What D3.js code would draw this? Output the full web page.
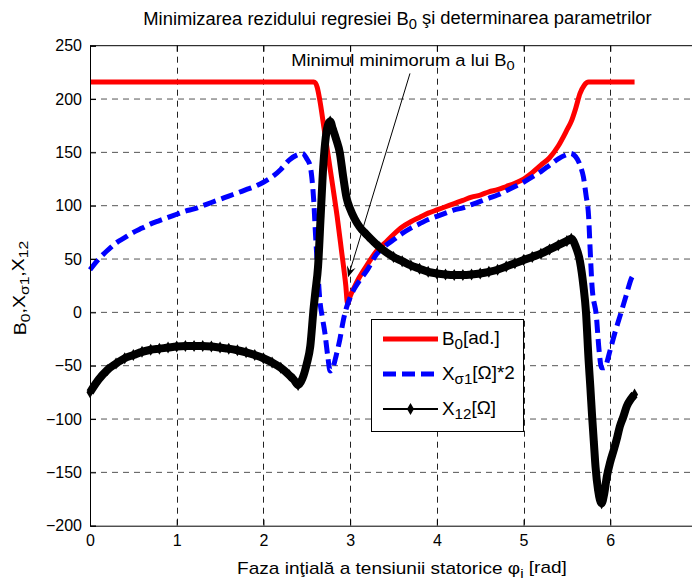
<!DOCTYPE html>
<html>
<head>
<meta charset="utf-8">
<script src="https://cdn.jsdelivr.net/npm/d3@7"></script>
<style>
  body { margin: 0; background: #fff; }
  svg { display: block; font-family: "Liberation Sans", Arial, sans-serif; }
</style>
</head>
<body>
<svg id="chart" width="692" height="580"></svg>
<script>
// ── Data ───────────────────────────────────────────────────────────────────

const b0X = [0, 2.58, 2.6, 2.62, 2.65, 2.7, 2.75, 2.8, 2.85, 2.9, 2.95, 2.97, 3.0, 3.05, 3.1, 3.2, 3.3, 3.4, 3.5, 3.6, 3.7, 3.8, 3.9, 4.0, 4.1, 4.2, 4.3, 4.4, 4.5, 4.6, 4.7, 4.8, 4.9, 5.0, 5.1, 5.2, 5.3, 5.4, 5.5, 5.55, 5.6, 5.65, 5.7, 5.75, 6.28];
const b0Y = [216, 216, 215, 211, 199, 172, 145, 118, 90, 58, 25, 8, 15, 24, 32, 45, 57, 65, 73, 80, 85, 89, 93, 96, 99, 102, 105, 108, 110, 113, 115, 118, 121, 125, 131, 138, 145, 156, 171, 179, 191, 205, 213, 216, 216];

const xsX = [0, 0.1, 0.2, 0.3, 0.4, 0.5, 0.6, 0.7, 0.8, 0.9, 1.0, 1.1, 1.2, 1.3, 1.4, 1.5, 1.6, 1.7, 1.8, 1.9, 2.0, 2.1, 2.2, 2.3, 2.4, 2.45, 2.5, 2.54, 2.56, 2.58, 2.6, 2.63, 2.65, 2.68, 2.71, 2.74, 2.77, 2.8, 2.84, 2.88, 2.92, 2.96, 3.0, 3.04, 3.11, 3.2, 3.3, 3.4, 3.5, 3.6, 3.7, 3.8, 3.9, 4.0, 4.1, 4.2, 4.3, 4.4, 4.5, 4.6, 4.7, 4.8, 4.9, 5.0, 5.1, 5.2, 5.3, 5.4, 5.5, 5.54, 5.6, 5.66, 5.69, 5.72, 5.75, 5.77, 5.79, 5.84, 5.87, 5.9, 5.93, 6.0, 6.05, 6.11, 6.18, 6.25, 6.28];
const xsY = [40, 50, 58, 65, 70, 75, 79, 83, 86, 89, 92, 95, 97, 100, 103, 106, 109, 112, 115, 118, 122, 127, 134, 143, 148, 149, 144, 137, 125, 105, 74, 35, 12, -5, -20, -40, -55, -52, -40, -26, -8, 5, 14, 21, 30, 40, 54, 62, 68, 74, 79, 83, 87, 90, 93, 96, 98, 101, 104, 107, 110, 114, 118, 122, 127, 132, 138, 144, 148, 149, 146, 136, 127, 110, 90, 55, 24, -4, -35, -52, -52, -35, -20, -4, 15, 33, 36];

const x12X = [0, 0.1, 0.2, 0.3, 0.4, 0.5, 0.6, 0.7, 0.8, 0.9, 1.0, 1.1, 1.2, 1.3, 1.4, 1.5, 1.6, 1.7, 1.8, 1.9, 2.0, 2.1, 2.2, 2.3, 2.35, 2.4, 2.45, 2.5, 2.54, 2.58, 2.6, 2.63, 2.66, 2.69, 2.72, 2.75, 2.77, 2.8, 2.84, 2.88, 2.92, 2.96, 3.0, 3.05, 3.11, 3.2, 3.34, 3.5, 3.6, 3.7, 3.8, 3.9, 4.0, 4.1, 4.2, 4.3, 4.4, 4.5, 4.6, 4.7, 4.8, 4.9, 5.0, 5.1, 5.2, 5.3, 5.4, 5.5, 5.55, 5.6, 5.65, 5.69, 5.72, 5.75, 5.77, 5.79, 5.81, 5.83, 5.86, 5.9, 5.93, 5.96, 6.0, 6.04, 6.08, 6.11, 6.15, 6.19, 6.24, 6.28];
const x12Y = [-75, -63, -54, -48, -43, -40, -37, -35, -34, -33, -32, -31.5, -31.5, -31.5, -32, -33, -34, -35.5, -37.5, -40, -43, -47, -52, -59, -63, -68, -62, -48, -32, 5, 20, 43, 90, 137, 165, 177, 179, 172, 162, 150, 127, 107, 97, 88, 80, 72, 61, 52, 48, 44, 41, 38, 36.5, 35.5, 35, 35, 35.5, 36.5, 38, 40, 43, 46, 49, 52, 55, 59, 63, 67, 69, 62, 48, 25, 0, -45, -70, -97, -121, -145, -167, -179, -170, -154, -140, -129, -117, -107, -98, -88, -81, -77];

const xTicks = [0, 1, 2, 3, 4, 5, 6, 7];
const xTickLabels = [0, 1, 2, 3, 4, 5, 6];   // 7 falls past the right edge
const yTicks = [-200, -150, -100, -50, 0, 50, 100, 150, 200, 250];

// ── Layout ─────────────────────────────────────────────────────────────────

const svg = d3.select('#chart');
const mL = 90, mR = 697, mT = 45.7, mB = 525.7;

const x = d3.scaleLinear().domain([0, 7]).range([mL, mR]);
const y = d3.scaleLinear().domain([-200, 250]).range([mB, mT]);

const FS = 16;

// grid
const grid = svg.append('g').attr('class', 'grid');
grid.selectAll('line.v')
  .data(xTicks.filter(t => t > 0 && t < 7))
  .join('line')
  .attr('x1', d => Math.round(x(d)) + 0.5).attr('x2', d => Math.round(x(d)) + 0.5)
  .attr('y1', mT).attr('y2', mB)
  .attr('stroke', '#222').attr('stroke-dasharray', '6,5');
grid.selectAll('line.h')
  .data(yTicks.filter(t => t > -200 && t < 250))
  .join('line')
  .attr('x1', mL).attr('x2', mR)
  .attr('y1', d => y(d)).attr('y2', d => y(d))
  .attr('stroke', '#555').attr('stroke-dasharray', '6,5');

// ── Series ─────────────────────────────────────────────────────────────────

const zip = (xa, ya) => xa.map((v, i) => [v, ya[i]]);
const line = d3.line().x(d => x(d[0])).y(d => y(d[1])).curve(d3.curveMonotoneX);

svg.append('path')
  .datum(zip(b0X, b0Y))
  .attr('d', line)
  .attr('fill', 'none').attr('stroke', '#ff0000')
  .attr('stroke-width', 5).attr('stroke-linejoin', 'round');

svg.append('path')
  .datum(zip(xsX, xsY))
  .attr('d', line)
  .attr('fill', 'none').attr('stroke', '#0000ff')
  .attr('stroke-width', 5).attr('stroke-dasharray', '13,6');

const x12 = zip(x12X, x12Y);
svg.append('path')
  .datum(x12)
  .attr('d', line)
  .attr('fill', 'none').attr('stroke', '#000')
  .attr('stroke-width', 8).attr('stroke-linejoin', 'round');

const diamond = (cx, cy) => `M${cx},${cy - 6}L${cx + 3.5},${cy}L${cx},${cy + 6}L${cx - 3.5},${cy}Z`;
svg.append('g').selectAll('path')
  .data(x12)
  .join('path')
  .attr('d', d => diamond(x(d[0]), y(d[1])))
  .attr('fill', '#000');

// ── Axes ───────────────────────────────────────────────────────────────────

const xAxis = d3.axisBottom(x).tickValues(xTickLabels).tickSize(-6).tickPadding(9).tickFormat(d3.format('d'));
const yAxis = d3.axisLeft(y).tickValues(yTicks).tickSize(-6).tickPadding(8).tickFormat(d3.format('d'));
const topAxis = d3.axisTop(x).tickValues(xTicks).tickSize(-6).tickFormat('');

const gx = svg.append('g').attr('transform', `translate(0,${mB})`).call(xAxis);
const gy = svg.append('g').attr('transform', `translate(${mL},0)`).call(yAxis);
const gt = svg.append('g').attr('transform', `translate(0,${mT})`).call(topAxis);

[gx, gy, gt].forEach(g => {
  g.select('.domain').attr('stroke', '#000');
  g.selectAll('.tick line').attr('stroke', '#000');
  g.selectAll('.tick text').attr('fill', '#000').style('font-size', FS + 'px');
});
gt.select('.domain').remove();
svg.append('line').attr('x1', mL).attr('x2', mR).attr('y1', mT).attr('y2', mT).attr('stroke', '#000');

// ── Texts ──────────────────────────────────────────────────────────────────

// label with sub-scripted parts; sx stretches it horizontally like the original export
function label(px, py, size, sx, anchor, parts, rotate) {
  const g = svg.append('g')
    .attr('transform', `translate(${px},${py})${rotate ? ' rotate(-90)' : ''} scale(${sx},1)`);
  const t = g.append('text')
    .attr('text-anchor', anchor)
    .style('font-size', size + 'px');
  parts.forEach(([s, isSub]) => {
    t.append('tspan')
      .attr('dy', isSub === 1 ? '0.3em' : (isSub === -1 ? '-0.3em' : null))
      .style('font-size', isSub === 1 ? '0.8em' : null)
      .text(s);
  });
  return t;
}

label((mL + mR) / 2 + 4, 25, 17.5, 1.05, 'middle',
  [['Minimizarea rezidului regresiei B', 0], ['0', 1], [' şi determinarea parametrilor', -1]]);

label(402, 574, 17, 1.12, 'middle',
  [['Faza inţială a tensiunii statorice φ', 0], ['i', 1], [' [rad]', -1]]);

label(26, 288, 17, 1.15, 'middle',
  [['B', 0], ['0', 1], [',X', -1], ['σ1', 1], [',X', -1], ['12', 1]], true);

// annotation (data coordinates)
label(x(2.32), y(231), 17, 1.08, 'start', [['Minimul minimorum a lui B', 0], ['0', 1]]);

const tail = [3.69, 224], tip = [2.976, 33];
const tx = x(tip[0]), ty = y(tip[1]), sx = x(tail[0]), sy = y(tail[1]);
const ang = Math.atan2(ty - sy, tx - sx);
svg.append('line')
  .attr('x1', sx).attr('y1', sy).attr('x2', tx - 6 * Math.cos(ang)).attr('y2', ty - 6 * Math.sin(ang))
  .attr('stroke', '#000').attr('stroke-width', 1);
const hl = 11, hw = 4.5;
const bx = tx - hl * Math.cos(ang), by = ty - hl * Math.sin(ang);
const mx = tx - 0.6 * hl * Math.cos(ang), my = ty - 0.6 * hl * Math.sin(ang);
svg.append('path')
  .attr('d', `M${tx},${ty}L${bx - hw * Math.sin(ang)},${by + hw * Math.cos(ang)}L${mx},${my}L${bx + hw * Math.sin(ang)},${by - hw * Math.cos(ang)}Z`)
  .attr('fill', '#000');

// ── Legend ─────────────────────────────────────────────────────────────────

const legend = svg.append('g');
legend.append('rect')
  .attr('x', 371.5).attr('y', 319.5).attr('width', 152).attr('height', 112)
  .attr('fill', '#fff').attr('stroke', '#000');

const items = [
  { y: 339, color: '#ff0000', dash: null, w: 5, label: [['B', 0], ['0', 1], ['[ad.]', -1]] },
  { y: 374, color: '#0000ff', dash: '13,6', w: 5, label: [['X', 0], ['σ1', 1], ['[Ω]*2', -1]] },
  { y: 409, color: '#000', dash: null, w: 2, label: [['X', 0], ['12', 1], ['[Ω]', -1]], marker: true },
];
items.forEach(it => {
  svg.append('line')
    .attr('x1', 383).attr('x2', 438).attr('y1', it.y).attr('y2', it.y)
    .attr('stroke', it.color).attr('stroke-width', it.w)
    .attr('stroke-dasharray', it.dash);
  if (it.marker) svg.append('path').attr('d', diamond(410.5, it.y)).attr('fill', '#000');
  label(442, it.y + 6, 17.5, 1.08, 'start', it.label);
});
</script>
</body>
</html>
